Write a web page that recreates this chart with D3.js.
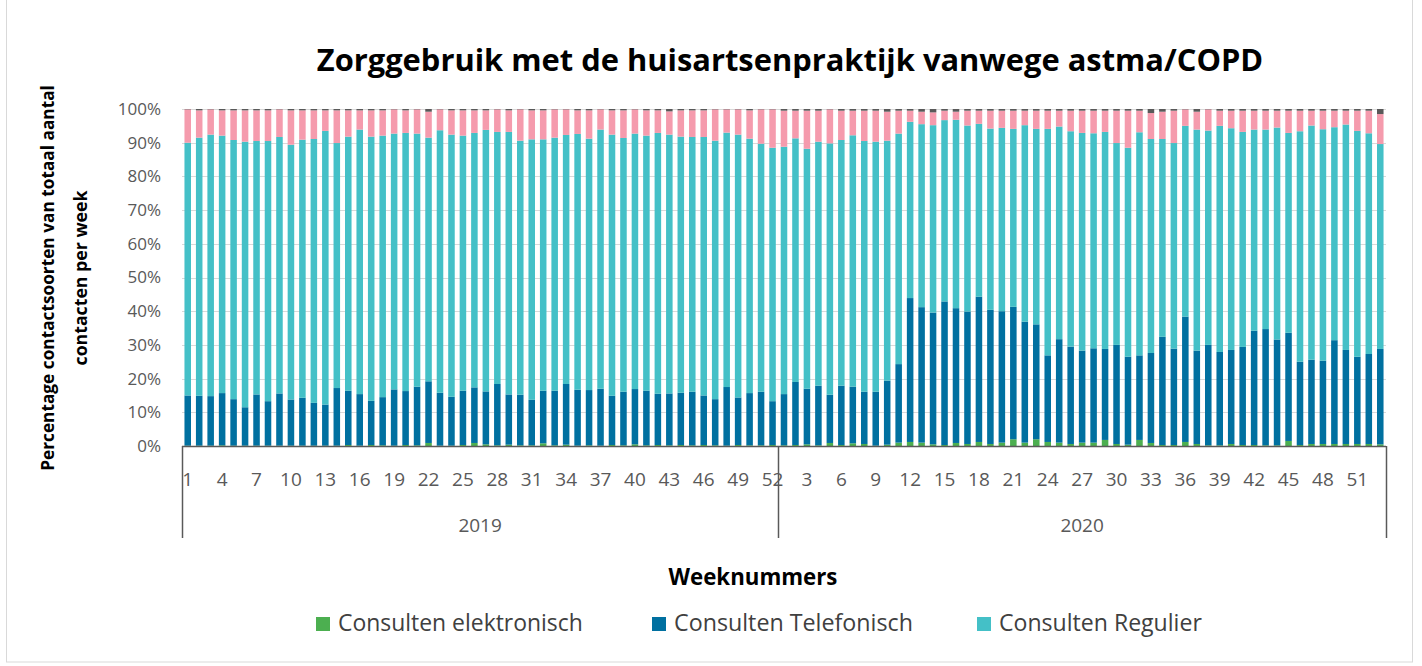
<!DOCTYPE html>
<html>
<head>
<meta charset="utf-8">
<script src="https://cdn.jsdelivr.net/npm/d3@7"></script>
<style>
  body { margin: 0; background: #fff; }
  svg text { font-family: "Open Sans", "Liberation Sans", sans-serif; }
</style>
</head>
<body>
<script>
var width = 1422,
    height = 666;

// week numbers per year
var weeks2019 = d3.range(1, 53);
var weeks2020 = d3.range(1, 54);

// percentages per week, 2019 then 2020
var elektronisch = [
  0.1,0.1,0.1,0.2,0.1,0.1,0.1,0.1,0.1,0.1,0.1,0.1,0.1,0.1,0.3,0.1,0.3,0.2,0.1,0.3,0.2,0.9,0.1,0.1,0.3,0.9,
  0.5,0.2,0.4,0.2,0.2,0.8,0.2,0.4,0.1,0.2,0.1,0.3,0.2,0.5,0.2,0.3,0.2,0.3,0.2,0.3,0.2,0.1,0.3,0.2,0.2,0.3,
  0.2,0.3,0.5,0.2,0.9,0.3,0.8,0.6,0.1,0.4,1.0,1.2,1.0,0.5,0.3,0.9,0.6,1.2,0.6,1.0,2.0,1.0,2.0,1.2,1.0,0.6,
  1.0,1.0,1.8,0.6,0.4,1.8,0.9,0.3,0.3,1.2,0.6,0.2,0.2,0.6,0.3,0.3,0.2,0.2,1.5,0.3,0.6,0.6,0.6,0.6,0.6,0.6,0.5
];
var telefonisch = [
  14.9,14.8,14.7,15.5,13.8,11.4,15.2,13.2,15.5,13.7,14.2,12.7,12.2,17.1,16.1,15.3,13.1,14.3,16.7,16.0,17.4,18.3,15.7,14.5,16.1,16.5,
  15.7,18.2,14.9,15.0,13.5,15.6,16.2,18.0,16.6,16.4,16.9,14.6,15.9,16.4,16.2,15.2,15.4,15.5,15.9,14.7,13.7,17.4,14.1,15.5,15.9,13.0,
  15.2,18.7,16.5,17.7,14.3,17.6,16.8,15.5,16.0,19.0,23.3,42.7,40.2,39.1,42.6,40.0,39.3,43.1,39.8,39.0,39.3,35.9,34.1,25.7,30.7,28.9,
  27.3,28.0,27.0,29.4,26.1,25.1,26.7,32.1,28.6,37.2,27.7,29.8,27.7,27.9,29.1,33.9,34.5,31.4,32.1,24.7,25.0,24.7,30.8,27.9,25.9,26.7,28.3
];
var regulier = [
  75.0,76.6,77.6,76.4,76.9,78.8,75.2,77.2,76.1,75.6,76.6,78.3,81.2,72.7,75.4,78.5,78.4,77.6,75.9,76.6,75.1,72.3,77.9,77.8,75.7,75.5,
  77.6,74.8,77.9,75.4,77.3,74.6,75.1,73.9,75.9,74.6,76.9,77.5,75.3,75.8,75.7,77.4,76.8,76.0,75.6,76.7,76.7,75.5,78.0,75.5,73.6,75.2,
  73.4,72.3,71.2,72.4,74.6,72.9,74.6,74.4,74.2,71.2,68.4,52.3,54.3,55.6,53.8,55.9,55.2,51.3,53.8,54.4,52.8,58.3,58.0,67.2,63.1,63.9,
  64.6,63.8,64.4,59.9,62.0,66.2,63.5,58.7,61.0,56.6,65.6,63.6,67.1,65.8,63.8,59.7,59.2,62.9,59.3,68.4,69.5,68.7,63.2,66.9,67.0,65.5,60.8
];
var visites = [
  9.9,8.1,7.5,7.5,8.8,9.3,9.1,9.1,8.2,10.2,8.7,8.5,6.1,9.7,7.8,5.7,7.8,7.5,7.2,6.7,7.2,7.7,6.2,7.2,7.5,6.7,
  5.8,6.7,6.4,9.3,8.6,8.6,8.4,7.6,7.0,8.4,6.0,7.2,8.2,7.2,7.5,6.7,6.9,7.8,7.9,7.9,9.3,6.9,7.5,8.4,10.2,11.4,
  10.7,8.2,11.3,9.2,10.1,8.7,7.3,9.0,9.2,8.6,6.8,3.3,3.7,3.8,2.8,2.4,4.4,3.9,5.3,5.1,5.4,4.3,5.4,5.4,4.7,6.1,
  6.6,6.7,6.3,9.6,11.0,6.4,7.7,8.1,9.6,4.9,5.3,6.3,4.5,5.2,6.3,5.6,5.6,5.0,6.6,6.1,4.4,5.5,4.9,4.1,6.0,6.7,8.9
];
var overig = [
  0.1,0.4,0.1,0.4,0.4,0.4,0.4,0.4,0.1,0.4,0.4,0.4,0.4,0.4,0.4,0.4,0.4,0.4,0.1,0.4,0.1,0.8,0.1,0.4,0.4,0.4,
  0.4,0.1,0.4,0.1,0.4,0.4,0.1,0.1,0.4,0.4,0.1,0.4,0.4,0.1,0.4,0.4,0.7,0.4,0.4,0.4,0.1,0.1,0.1,0.4,0.1,0.1,
  0.5,0.5,0.5,0.5,0.1,0.5,0.5,0.5,0.5,0.8,0.5,0.5,0.8,1.0,0.5,0.8,0.5,0.5,0.5,0.5,0.5,0.5,0.5,0.5,0.5,0.5,
  0.5,0.5,0.5,0.5,0.5,0.5,1.2,0.8,0.5,0.1,0.8,0.1,0.5,0.5,0.5,0.5,0.5,0.5,0.5,0.5,0.5,0.5,0.5,0.5,0.5,0.5,1.5
];

var yTicks = [0, 10, 20, 30, 40, 50, 60, 70, 80, 90, 100];
var years = ["2019", "2020"];

var keys = ["elektronisch", "telefonisch", "regulier", "visites", "overig"];
var colors = {
  elektronisch: "#4caf50",
  telefonisch: "#0070a0",
  regulier: "#44c0c7",
  visites: "#f59bad",
  overig: "#595959"
};
var legendItems = [
  {key: "elektronisch", label: "Consulten elektronisch", x: 316, w: 245},
  {key: "telefonisch", label: "Consulten Telefonisch", x: 652, w: 239},
  {key: "regulier", label: "Consulten Regulier", x: 977, w: 203}
];

// build the table from the arrays
var cats = weeks2019.map(function(w) { return {year: "2019", week: w}; })
  .concat(weeks2020.map(function(w) { return {year: "2020", week: w}; }));
var table = cats.map(function(c, i) {
  return {
    id: c.year + "-" + c.week, year: c.year, week: c.week,
    elektronisch: elektronisch[i], telefonisch: telefonisch[i], regulier: regulier[i],
    visites: visites[i], overig: overig[i]
  };
});

var plot = {left: 182, right: 1386, top: 109, bottom: 446};

var svg = d3.select("body").append("svg")
  .attr("width", width)
  .attr("height", height);

svg.append("rect")
  .attr("x", 6.5).attr("y", -1)
  .attr("width", 1406).attr("height", 663)
  .style("fill", "#fff")
  .style("stroke", "#d9d9d9");

var x = d3.scaleBand()
  .domain(table.map(function(d) { return d.id; }))
  .range([plot.left, plot.right])
  .paddingInner(0.43)
  .paddingOuter(0.215);

var y = d3.scaleLinear()
  .domain([0, 100])
  .range([plot.bottom, plot.top]);

// gridlines
svg.append("g").selectAll("line")
  .data(yTicks.slice(1))
  .enter().append("line")
  .attr("x1", plot.left).attr("x2", plot.right)
  .attr("y1", function(d) { return Math.round(y(d)) + 0.5; })
  .attr("y2", function(d) { return Math.round(y(d)) + 0.5; })
  .style("stroke", "#d9d9d9")
  .style("stroke-width", 1);

// y axis labels
var yAxis = d3.axisLeft(y)
  .tickValues(yTicks)
  .tickFormat(function(d) { return d + "%"; })
  .tickSize(0)
  .tickPadding(0);
var yg = svg.append("g")
  .attr("transform", "translate(" + 161 + ",0)")
  .call(yAxis);
yg.select(".domain").remove();
yg.selectAll("text")
  .style("font-size", "17px")
  .style("fill", "#595959");

// stacked bars
var series = d3.stack().keys(keys)(table);

svg.append("g").selectAll("g")
  .data(series)
  .enter().append("g")
  .style("fill", function(d) { return colors[d.key]; })
  .selectAll("rect")
  .data(function(d) { return d; })
  .enter().append("rect")
  .attr("x", function(d) { return x(d.data.id); })
  .attr("width", x.bandwidth())
  .attr("y", function(d) { return y(d[1]); })
  .attr("height", function(d) { return Math.max(0, y(d[0]) - y(d[1])); });

// category axis
svg.append("line")
  .attr("x1", plot.left).attr("x2", plot.right)
  .attr("y1", plot.bottom + 0.5).attr("y2", plot.bottom + 0.5)
  .style("stroke", "#595959")
  .style("stroke-width", 1.5);

var xLabels = table.filter(function(d, i) { return i % 3 === 0; });
svg.append("g").selectAll("text")
  .data(xLabels)
  .enter().append("text")
  .attr("x", function(d) { return x(d.id) + x.bandwidth() / 2; })
  .attr("y", 486)
  .attr("text-anchor", "middle")
  .style("font-size", "19px")
  .style("fill", "#595959")
  .text(function(d) { return d.week; });

// year groups
var groupEdges = [plot.left, x(table[52].id) - x.step() * x.paddingInner() / 2, plot.right];
svg.append("g").selectAll("line")
  .data(groupEdges)
  .enter().append("line")
  .attr("x1", function(d) { return Math.round(d) + 0.5; })
  .attr("x2", function(d) { return Math.round(d) + 0.5; })
  .attr("y1", plot.bottom).attr("y2", 538)
  .style("stroke", "#595959")
  .style("stroke-width", 1.5);

svg.append("g").selectAll("text")
  .data(years)
  .enter().append("text")
  .attr("x", function(d, i) { return (groupEdges[i] + groupEdges[i + 1]) / 2; })
  .attr("y", 532)
  .attr("text-anchor", "middle")
  .style("font-size", "19px")
  .style("fill", "#595959")
  .text(function(d) { return d; });

function fit(sel, w) {
  var fs = parseFloat(sel.style("font-size"));
  var len = sel.node().getComputedTextLength();
  sel.style("font-size", (fs * w / len) + "px");
}

// title
var title = svg.append("text")
  .attr("x", 790).attr("y", 71)
  .attr("text-anchor", "middle")
  .style("font-size", "28px")
  .style("font-weight", "bold")
  .style("fill", "#000")
  .text("Zorggebruik met de huisartsenpraktijk vanwege astma/COPD");
fit(title, 947);

// axis titles
var yt1 = svg.append("text")
  .attr("transform", "translate(54,278) rotate(-90)")
  .attr("text-anchor", "middle")
  .style("font-size", "17px")
  .style("font-weight", "bold")
  .text("Percentage contactsoorten van totaal aantal");
fit(yt1, 386);
var yt2 = svg.append("text")
  .attr("transform", "translate(87,278) rotate(-90)")
  .attr("text-anchor", "middle")
  .style("font-size", "17px")
  .style("font-weight", "bold")
  .text("contacten per week");
fit(yt2, 175);

var xt = svg.append("text")
  .attr("x", 753).attr("y", 585)
  .attr("text-anchor", "middle")
  .style("font-size", "19px")
  .style("font-weight", "bold")
  .text("Weeknummers");
fit(xt, 169);

// legend
var legend = svg.append("g").selectAll("g")
  .data(legendItems)
  .enter().append("g")
  .attr("transform", function(d) { return "translate(" + d.x + ",617)"; });

legend.append("rect")
  .attr("width", 14).attr("height", 14)
  .style("fill", function(d) { return colors[d.key]; });

legend.append("text")
  .attr("x", 22).attr("y", 14)
  .style("font-size", "20px")
  .style("fill", "#404040")
  .text(function(d) { return d.label; })
  .each(function(d) { fit(d3.select(this), d.w); });
</script>
</body>
</html>
